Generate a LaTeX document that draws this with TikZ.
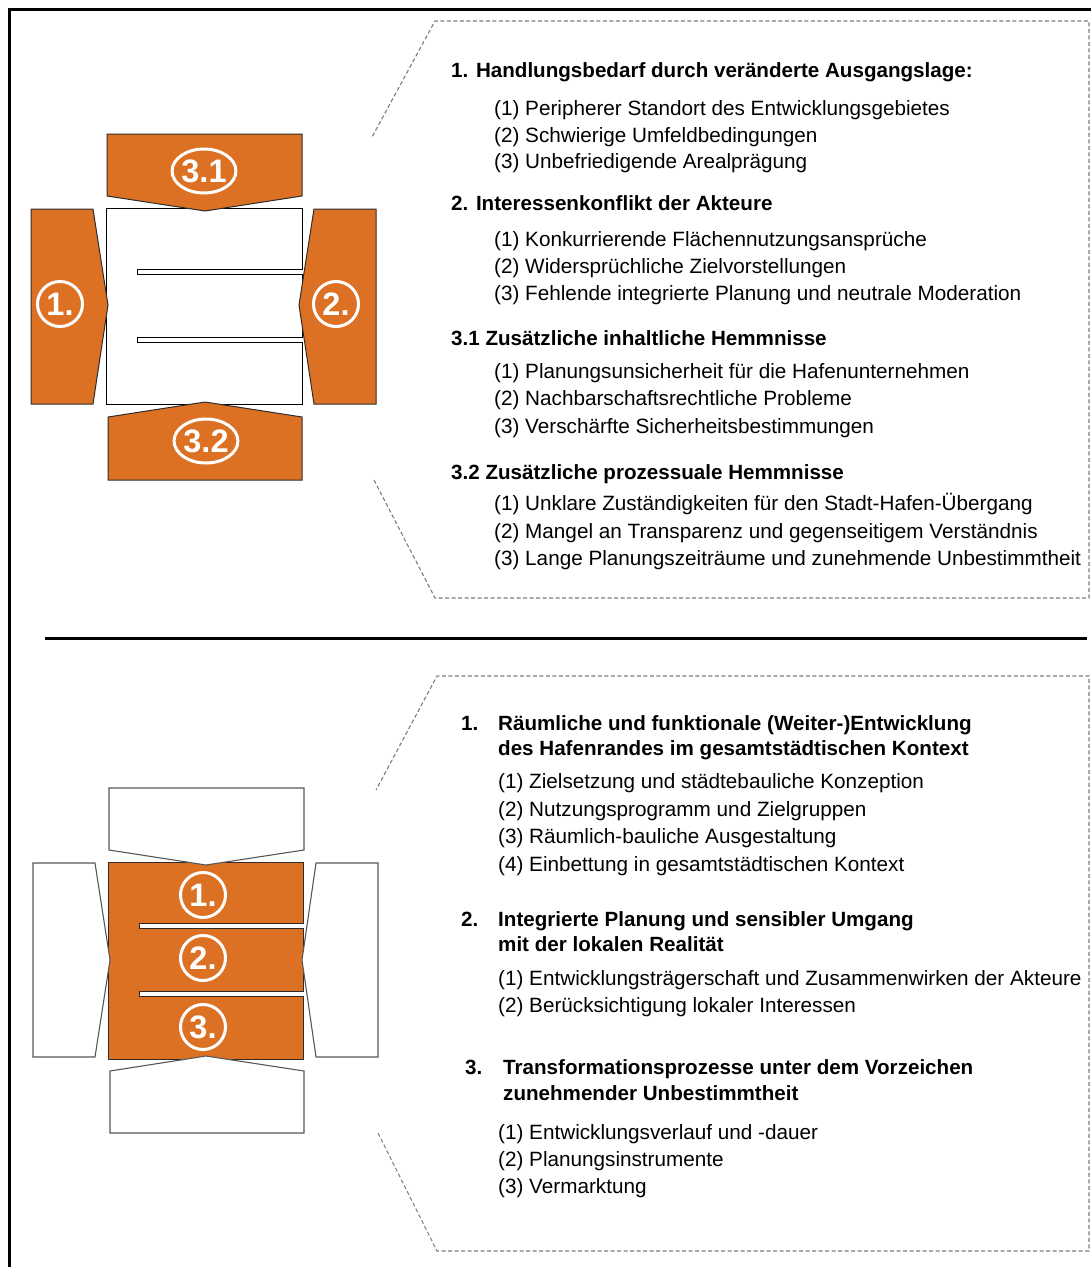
\documentclass[tikz,border=0pt]{standalone}
\usepackage{fontspec}
\setmainfont{Liberation Sans}
\usetikzlibrary{shapes.geometric}
\definecolor{rust}{RGB}{221,113,35}
\definecolor{rim}{RGB}{45,45,45}
\definecolor{hint}{RGB}{125,125,125}
\tikzset{
  panel/.style={fill=#1,draw=rim,line width=1pt},
  panel/.default=rust,
  blank/.style={fill=white,draw=rim!80,line width=1.1pt},
  badge/.style={circle,draw=white,line width=3pt,text=white,inner sep=0pt,
    minimum size=45pt,font=\bfseries\fontsize{32.5}{32.5}\selectfont},
  wide badge/.style={badge,ellipse,minimum width=59pt,minimum height=44pt},
  hintline/.style={draw=hint,line width=1.1pt,dash pattern=on 4pt off 2.5pt},
  rule/.style={line width=3pt},
  head/.style={anchor=base west,inner sep=0pt,font=\bfseries\fontsize{20.6}{24}\selectfont},
  item/.style={anchor=base west,inner sep=0pt,font=\fontsize{20.7}{24}\selectfont},
}

\begin{document}
\begin{tikzpicture}[x=1pt,y=-1pt]
  \useasboundingbox (0,0) rectangle (1091,1267);
  % frame and separator
  \draw[rule] (9,1267) -- (9,9) -- (1091,9);
  \draw[rule] (45,638) -- (1087,638);

  % upper scheme
  \draw[blank,draw=black,line width=0.8pt] (106,208) -- (302,208) -- (302,269) -- (137,269) -- (137,274) -- (302,274)
    -- (302,337) -- (137,337) -- (137,342) -- (302,342) -- (302,404) -- (106,404) -- cycle;
  \draw[panel] (107,134) -- (302,134) -- (302,196) -- (205,211) -- (107,196) -- cycle;
  \draw[panel] (31,209) -- (93,209) -- (108,305) -- (93,404) -- (31,404) -- cycle;
  \draw[panel] (376,209) -- (314,209) -- (299,305) -- (314,404) -- (376,404) -- cycle;
  \draw[panel] (108,480) -- (302,480) -- (302,417) -- (205,402) -- (108,417) -- cycle;
  \node[wide badge] (b31) at (204,171) {3.1};
  \node[badge] (b1) at (60,304) {1.};
  \node[badge] (b2) at (336,304) {2.};
  \node[wide badge] (b32) at (206,441) {3.2};

  \draw[hintline] (374,480) -- (435,598) -- (1089,598) -- (1089,21) -- (435,21) -- (372,137);

  \node[head] (h1) at (451,77) {1. Handlungsbedarf durch veränderte Ausgangslage:};
  \foreach \y/\t [count=\i] in {115/Peripherer Standort des Entwicklungsgebietes,
      142/Schwierige Umfeldbedingungen,168/Unbefriedigende Arealprägung}
    \node[item] (u1\i) at (494,\y) {(\i) \t};
  \node[head] (h2) at (451,210) {2. Interessenkonflikt der Akteure};
  \foreach \y/\t [count=\i] in {246/Konkurrierende Flächennutzungsansprüche,
      273/Widersprüchliche Zielvorstellungen,300/Fehlende integrierte Planung und neutrale Moderation}
    \node[item] (u2\i) at (494,\y) {(\i) \t};
  \node[head] (h31) at (451,345) {3.1 Zusätzliche inhaltliche Hemmnisse};
  \foreach \y/\t [count=\i] in {378/Planungsunsicherheit für die Hafenunternehmen,
      405/Nachbarschaftsrechtliche Probleme,433/Verschärfte Sicherheitsbestimmungen}
    \node[item] (u3\i) at (494,\y) {(\i) \t};
  \node[head] (h32) at (451,479) {3.2 Zusätzliche prozessuale Hemmnisse};
  \foreach \y/\t [count=\i] in {510/Unklare Zuständigkeiten für den Stadt-Hafen-Übergang,
      538/Mangel an Transparenz und gegenseitigem Verständnis,565/Lange Planungszeiträume und zunehmende Unbestimmtheit}
    \node[item] (u4\i) at (494,\y) {(\i) \t};

  % lower scheme
  \draw[panel] (108,862) -- (303,862) -- (303,923) -- (139,923) -- (139,928) -- (303,928)
    -- (303,991) -- (139,991) -- (139,996) -- (303,996) -- (303,1059) -- (108,1059) -- cycle;
  \draw[blank] (109,788) -- (304,788) -- (304,850) -- (206,865) -- (109,850) -- cycle;
  \draw[blank] (33,863) -- (95,863) -- (110,960) -- (95,1057) -- (33,1057) -- cycle;
  \draw[blank] (378,863) -- (316,863) -- (302,960) -- (316,1057) -- (378,1057) -- cycle;
  \draw[blank] (110,1133) -- (304,1133) -- (304,1071) -- (206,1056) -- (110,1071) -- cycle;
  \foreach \y/\n in {895/1,958/2,1027/3}
    \node[badge] (c\n) at (203,\y) {\n.};

  \draw[hintline] (378,1133) -- (437,1251) -- (1089,1251) -- (1089,676) -- (437,676) -- (376,790);

  \node[head] (k1) at (461,730) {1.};
  \node[head] (k1a) at (498,730) {Räumliche und funktionale (Weiter-)Entwicklung};
  \node[head] (k1b) at (498,755) {des Hafenrandes im gesamtstädtischen Kontext};
  \foreach \y/\t [count=\i] in {788/Zielsetzung und städtebauliche Konzeption,
      816/Nutzungsprogramm und Zielgruppen,843/Räumlich-bauliche Ausgestaltung,
      871/Einbettung in gesamtstädtischen Kontext}
    \node[item] (l1\i) at (498,\y) {(\i) \t};
  \node[head] (k2) at (461,926) {2.};
  \node[head] (k2a) at (498,926) {Integrierte Planung und sensibler Umgang};
  \node[head] (k2b) at (498,951) {mit der lokalen Realität};
  \foreach \y/\t [count=\i] in {985/Entwicklungsträgerschaft und Zusammenwirken der Akteure,
      1012/Berücksichtigung lokaler Interessen}
    \node[item] (l2\i) at (498,\y) {(\i) \t};
  \node[head] (k3) at (465,1074) {3.};
  \node[head] (k3a) at (503,1074) {Transformationsprozesse unter dem Vorzeichen};
  \node[head] (k3b) at (503,1100) {zunehmender Unbestimmtheit};
  \foreach \y/\t [count=\i] in {1139/Entwicklungsverlauf und -dauer,
      1166/Planungsinstrumente,1193/Vermarktung}
    \node[item] (l3\i) at (498,\y) {(\i) \t};
\end{tikzpicture}
\end{document}
